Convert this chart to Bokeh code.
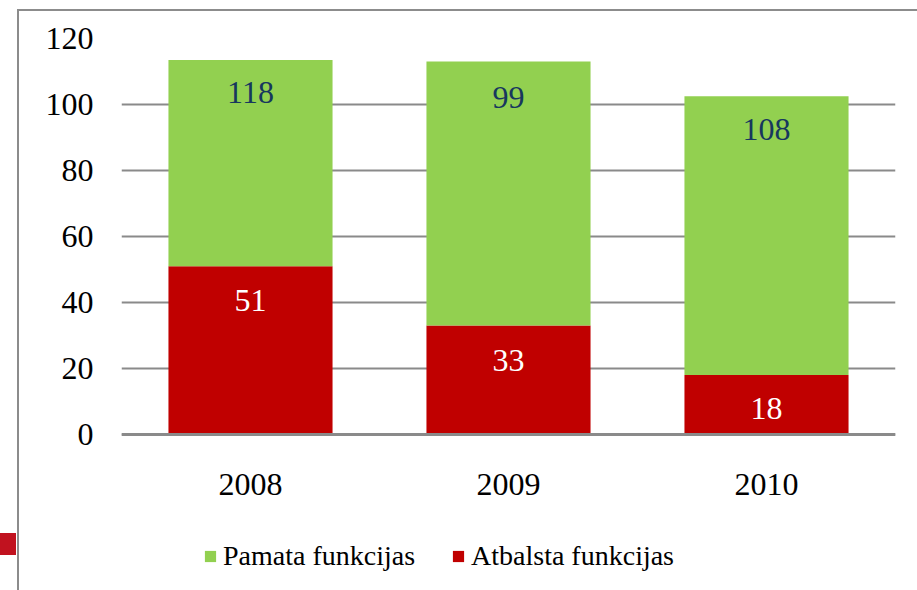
from bokeh.plotting import figure
from bokeh.models import (ColumnDataSource, FixedTicker, Legend, LegendItem,
                          InlineStyleSheet)
from bokeh.core.properties import value
from bokeh.embed import file_html
from bokeh.resources import INLINE

# ---- data ----
years = ["2008", "2009", "2010"]
atbalsta = [51, 33, 18]                 # red segment (Atbalsta funkcijas)
pamata_segment = [62.5, 80, 84.5]       # green segment height as drawn
pamata_labels = ["118", "99", "108"]    # printed labels on green
atbalsta_labels = ["51", "33", "18"]    # printed labels on red
y_ticks = [0, 20, 40, 60, 80, 100, 120]
# label anchor heights (value units) as seen in the picture
pamata_label_y = [103.6, 102.1, 92.4]
atbalsta_label_y = [40.6, 22.4, 7.9]

GREEN = "#92D050"
RED = "#C00000"
GRID = "#8A8A8A"
FONT = "'Liberation Serif'"
FS = "32px"

totals = [a + b for a, b in zip(atbalsta, pamata_segment)]
src = ColumnDataSource(dict(x=years, red=atbalsta, top=totals,
                            zero=[0] * len(years),
                            plab=pamata_labels, alab=atbalsta_labels,
                            py=pamata_label_y, ay=atbalsta_label_y))

# frame: 774 x 552 px, value 0 sits 396 px below value 120 (3.3 px per unit)
p = figure(x_range=years, y_range=(120 - 552 / 3.3, 120),
           frame_width=774, frame_height=552,
           output_backend="svg", toolbar_location=None,
           min_border_left=102, min_border_right=22,
           min_border_top=27, min_border_bottom=0)
p.outline_line_color = None
p.background_fill_color = "white"
p.border_fill_color = "white"
p.margin = (9, 0, 0, 17)
p.styles = {"border-top": "2px solid #8C8C8C", "border-left": "2px solid #8C8C8C"}
p.stylesheets = [InlineStyleSheet(css=""":host::before { content: ""; position: absolute;
  left: -19px; top: 522px; width: 16px; height: 22px; background: #C1121F; }""")]

red_r = p.vbar(x="x", bottom="zero", top="red", width=0.636, source=src,
               fill_color=RED, line_color=None)
green_r = p.vbar(x="x", bottom="red", top="top", width=0.636, source=src,
                 fill_color=GREEN, line_color=None)

p.text(x="x", y="py", text="plab", source=src, text_align="center",
       text_baseline="middle", text_font=value(FONT),
       text_font_size=FS, text_color="#17375E")
p.text(x="x", y="ay", text="alab", source=src, text_align="center",
       text_baseline="middle", text_font=value(FONT),
       text_font_size=FS, text_color="white")

# axes
p.yaxis.ticker = FixedTicker(ticks=y_ticks)
p.yaxis.axis_line_color = None
p.yaxis.major_tick_line_color = None
p.yaxis.minor_tick_line_color = None
p.yaxis.major_tick_out = 0
p.yaxis.major_tick_in = 0
p.yaxis.major_label_standoff = 28
p.yaxis.major_label_text_font = FONT
p.yaxis.major_label_text_font_size = FS
p.yaxis.major_label_text_color = "black"

p.xaxis.fixed_location = 0
p.xaxis.axis_line_color = GRID
p.xaxis.axis_line_width = 3
p.xaxis.major_tick_line_color = None
p.xaxis.minor_tick_line_color = None
p.xaxis.major_tick_out = 0
p.xaxis.major_tick_in = 0
p.xaxis.major_label_standoff = 39
p.xaxis.major_label_text_font = FONT
p.xaxis.major_label_text_font_size = FS
p.xaxis.major_label_text_color = "black"

p.xgrid.grid_line_color = None
p.ygrid.grid_line_color = GRID
p.ygrid.grid_line_width = 2

legend = Legend(items=[LegendItem(label="Pamata funkcijas", renderers=[green_r]),
                       LegendItem(label="Atbalsta funkcijas", renderers=[red_r])],
                orientation="horizontal", location=(82, 18),
                glyph_width=14, glyph_height=14, label_standoff=6,
                spacing=36, padding=0, margin=0,
                border_line_color=None, background_fill_alpha=0,
                label_text_font=FONT, label_text_font_size="28px",
                label_text_color="black")
p.add_layout(legend, "center")

open("out.html", "w").write(file_html(p, INLINE))
